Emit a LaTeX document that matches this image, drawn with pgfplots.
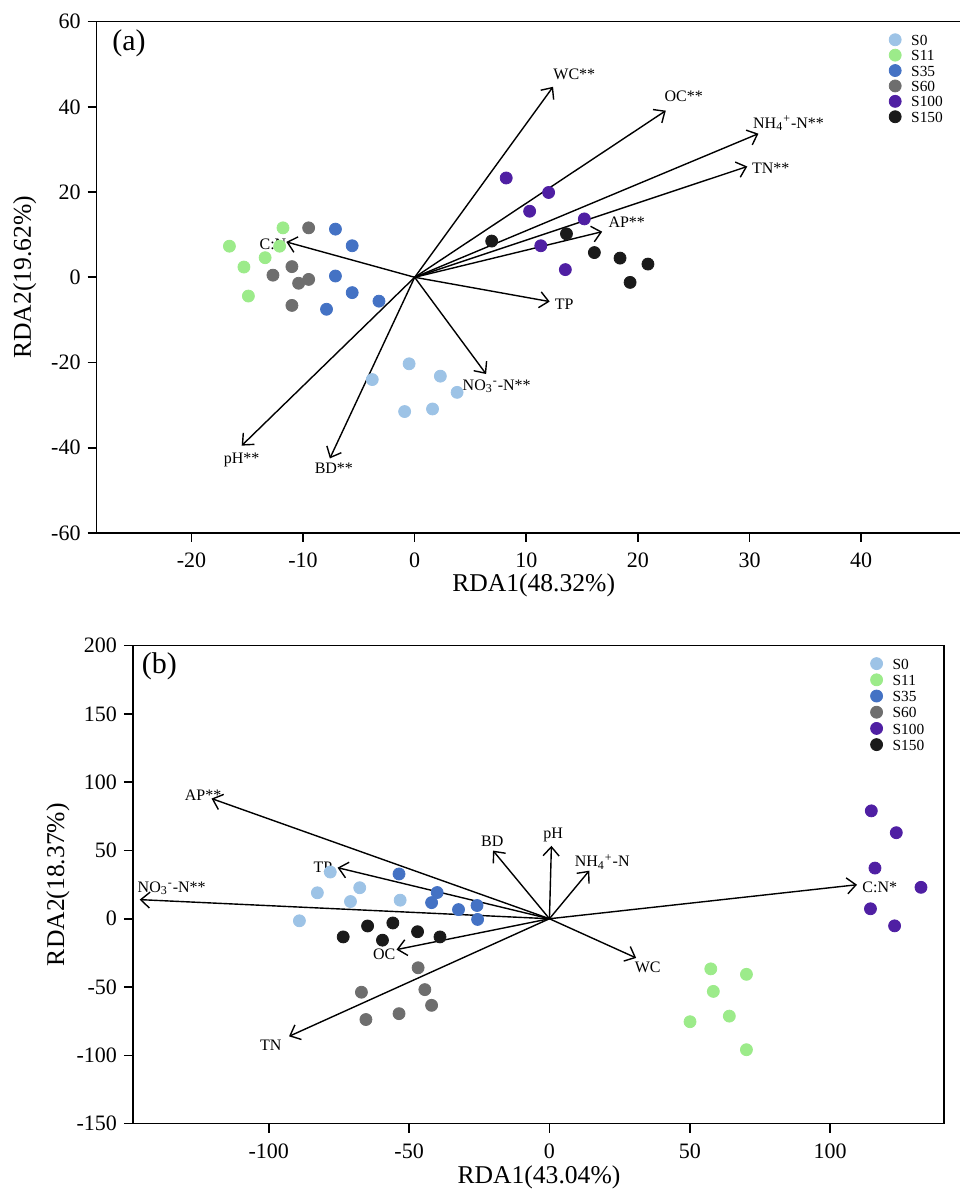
\documentclass[border=0pt]{standalone}
\usepackage{pgfplots}
\pgfplotsset{compat=1.18}
\usepackage{fontspec}
\setmainfont{Liberation Serif}
\usetikzlibrary{arrows.meta}

\definecolor{cS0}{HTML}{9DC3E6}
\definecolor{cS11}{HTML}{9CEB8A}
\definecolor{cS35}{HTML}{4472C4}
\definecolor{cS60}{HTML}{6E6E6E}
\definecolor{cS100}{HTML}{4F1FA3}
\definecolor{cS150}{HTML}{1A1A1A}

\pgfplotsset{
  rda/.style={
    scale only axis,
    anchor=south west,
    axis line style={line width=0.8pt},
    tick style={line width=0.8pt, black},
    major tick length=4.5pt,
    tick align=outside,
    xtick pos=bottom, ytick pos=left,
    /pgf/number format/assume math mode=true,
    ticklabel style={font=\fontsize{11}{11}\selectfont},
    xticklabel style={yshift=-2pt},
    label style={font=\fontsize{12.8}{12.8}\selectfont},
    legend cell align=left,
    legend style={draw=none, fill=none, anchor=north west, inner sep=0pt,
      font=\fontsize{7.7}{7.7}\selectfont, column sep=5pt, row sep=1.7pt,
      nodes={inner sep=0pt, text height=5.6pt, text depth=0pt}},
    legend image code/.code={\draw[##1] plot coordinates {(0.11cm,0cm)};},
  },
  samp/.style={only marks, mark=*, mark size=3pt, color=#1, mark options={draw=#1, fill=#1}},
  vec/.style={black, line width=0.7pt, -{Straight Barb[length=4.5pt,width=8pt]}, forget plot},
}
\tikzset{vlab/.style={font=\fontsize{8}{8}\selectfont, inner sep=0pt},
  panel/.style={font=\fontsize{15}{15}\selectfont, inner sep=0pt}}

\begin{document}
\begin{tikzpicture}

% ---------- (a) ----------
\begin{axis}[rda,
  at={(48.3pt,329pt)}, width=433.6pt, height=255.7pt,
  xmin=-28.5, xmax=49.2, ymin=-60, ymax=60,
  xtick={-20,-10,0,10,20,30,40}, ytick={-60,-40,-20,0,20,40,60},
  xlabel={RDA1(48.32\%)}, ylabel={RDA2(19.62\%)},
  xlabel style={at={(axis description cs:0.504,-0.1025)}, anchor=center},
  ylabel style={at={(axis description cs:-0.083,0.5)}, anchor=center},
  legend style={at={(axis description cs:0.9135,0.977)}},
]
\addplot[samp=cS0] coordinates {(-0.5,-20.3) (2.3,-23.2) (-3.8,-24.0) (3.8,-27.0) (1.6,-30.9) (-0.9,-31.5)};
\addplot[samp=cS11] coordinates {(-11.8,11.6) (-16.6,7.3) (-12.1,7.3) (-13.4,4.6) (-15.3,2.4) (-14.9,-4.4)};
\addplot[samp=cS35] coordinates {(-7.1,11.3) (-5.6,7.4) (-7.1,0.3) (-5.6,-3.6) (-3.2,-5.6) (-7.9,-7.5)};
\addplot[samp=cS60] coordinates {(-9.5,11.6) (-11.0,2.5) (-12.7,0.5) (-9.5,-0.5) (-10.4,-1.4) (-11.0,-6.6)};
\addplot[samp=cS100] coordinates {(8.2,23.3) (12.0,19.9) (10.3,15.5) (15.2,13.7) (11.3,7.4) (13.5,1.8)};
\addplot[samp=cS150] coordinates {(6.9,8.5) (13.6,10.2) (16.1,5.8) (18.4,4.5) (20.9,3.1) (19.3,-1.2)};
\legend{S0,S11,S35,S60,S100,S150}

\addplot[vec] coordinates {(0,0) (12.4,44.7)};
\addplot[vec] coordinates {(0,0) (22.5,39.1)};
\addplot[vec] coordinates {(0,0) (30.8,33.7)};
\addplot[vec] coordinates {(0,0) (29.8,26.0)};
\addplot[vec] coordinates {(0,0) (16.8,10.7)};
\addplot[vec] coordinates {(0,0) (12.1,-5.7)};
\addplot[vec] coordinates {(0,0) (6.4,-22.7)};
\addplot[vec] coordinates {(0,0) (-7.6,-42.5)};
\addplot[vec] coordinates {(0,0) (-15.5,-39.5)};
\addplot[vec] coordinates {(0,0) (-11.5,8.3)};

\node[vlab] at (axis cs:14.3,47.6) {WC**};
\node[vlab] at (axis cs:24.1,42.4) {OC**};
\node[vlab] at (axis cs:33.5,36.1) {NH\textsubscript{4}\textsuperscript{+}-N**};
\node[vlab] at (axis cs:31.9,25.6) {TN**};
\node[vlab] at (axis cs:19.0,12.9) {AP**};
\node[vlab] at (axis cs:13.4,-6.4) {TP};
\node[vlab] at (axis cs:7.35,-25.6) {NO\textsubscript{3}\textsuperscript{-}-N**};
\node[vlab] at (axis cs:-7.24,-44.7) {BD**};
\node[vlab] at (axis cs:-15.5,-42.8) {pH**};
\node[vlab] at (axis cs:-12.7,7.8) {C:N};
\node[panel] at (axis cs:-25.6,54.8) {(a)};
\end{axis}

% ---------- (b) ----------
\begin{axis}[rda,
  at={(66.5pt,33.7pt)}, width=405.5pt, height=239pt,
  xmin=-148.4, xmax=140.6, ymin=-150, ymax=200,
  xtick={-100,-50,0,50,100}, ytick={-150,-100,-50,0,50,100,150,200},
  xlabel={RDA1(43.04\%)}, ylabel={RDA2(18.37\%)},
  xlabel style={at={(axis description cs:0.5006,-0.112)}, anchor=center},
  ylabel style={at={(axis description cs:-0.0925,0.5)}, anchor=center},
  legend style={at={(axis description cs:0.909,0.9757)}, row sep=2.1pt},
]
\addplot[samp=cS0] coordinates {(-78.1,34.2) (-82.7,19.0) (-67.6,22.7) (-70.9,12.6) (-53.2,13.6) (-89.1,-1.5)};
\addplot[samp=cS11] coordinates {(57.5,-36.7) (70.2,-40.7) (58.4,-53.2) (64.1,-71.3) (50.1,-75.4) (70.2,-95.9)};
\addplot[samp=cS35] coordinates {(-53.6,32.8) (-40.0,19.2) (-42.0,11.8) (-32.4,6.7) (-25.8,9.7) (-25.6,-0.5)};
\addplot[samp=cS60] coordinates {(-46.8,-35.9) (-67.0,-53.8) (-44.4,-51.9) (-42.0,-63.4) (-53.6,-69.5) (-65.4,-73.8)};
\addplot[samp=cS100] coordinates {(114.7,79.0) (123.6,63.0) (116.0,37.1) (132.4,23.0) (114.4,7.3) (123.0,-5.2)};
\addplot[samp=cS150] coordinates {(-73.5,-13.3) (-64.8,-5.3) (-55.8,-3.1) (-59.5,-15.7) (-47.0,-9.5) (-39.0,-13.3)};
\legend{S0,S11,S35,S60,S100,S150}

\addplot[vec] coordinates {(0,0) (-120.4,88.0)};
\addplot[vec] coordinates {(0,0) (-146.0,14.0)};
\addplot[vec] coordinates {(0,0) (-75.5,37.4)};
\addplot[vec] coordinates {(0,0) (-20.1,49.9)};
\addplot[vec] coordinates {(0,0) (0.7,53.4)};
\addplot[vec] coordinates {(0,0) (14.2,35.2)};
\addplot[vec] coordinates {(0,0) (109.6,24.9)};
\addplot[vec] coordinates {(0,0) (30.9,-28.7)};
\addplot[vec] coordinates {(0,0) (-54.5,-22.6)};
\addplot[vec] coordinates {(0,0) (-92.8,-86.1)};

\node[vlab] at (axis cs:-123.4,90.7) {AP**};
\node[vlab] at (axis cs:-134.6,22.2) {NO\textsubscript{3}\textsuperscript{-}-N**};
\node[vlab] at (axis cs:-80.7,37.4) {TP};
\node[vlab] at (axis cs:-20.4,56.8) {BD};
\node[vlab] at (axis cs:1.3,61.4) {pH};
\node[vlab] at (axis cs:18.8,41.7) {NH\textsubscript{4}\textsuperscript{+}-N};
\node[vlab] at (axis cs:117.7,22.8) {C:N*};
\node[vlab] at (axis cs:35.0,-35.9) {WC};
\node[vlab] at (axis cs:-58.9,-25.8) {OC};
\node[vlab] at (axis cs:-99.3,-92.5) {TN};
\node[panel] at (axis cs:-139,184.8) {(b)};
\end{axis}

\pgfresetboundingbox
\useasboundingbox (0,0) rectangle (480pt,595.5pt);
\end{tikzpicture}
\end{document}
